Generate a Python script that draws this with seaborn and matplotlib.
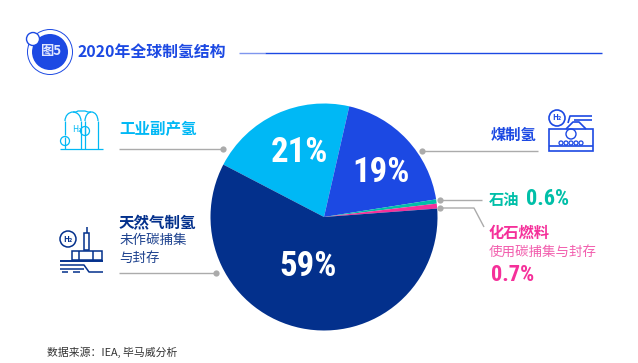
import matplotlib
matplotlib.use("Agg")
import seaborn as sns
import matplotlib.pyplot as plt
from matplotlib.patches import Circle, Arc, Rectangle

# Data (clockwise from the industrial by-product slice)
sources = ["工业副产氢", "煤制氢", "石油", "化石燃料", "天然气制氢"]
shares = [21, 19, 0.6, 0.7, 59]
share_labels = ["21%", "19%", "0.6%", "0.7%", "59%"]
colors = ["#00b8f5", "#1c49e3", "#00bfa8", "#f5309a", "#03308c"]

sns.set_theme(style="white")
cjk = ["Noto Sans CJK SC", "DejaVu Sans"]
narrow = ["Roboto Condensed", "Noto Sans CJK SC", "DejaVu Sans"]
plt.rcParams["font.family"] = cjk

W, H = 638, 363
fig = plt.figure(figsize=(W / 100, H / 100), dpi=100)

# Pie
cx, cy, r = 324, 217, 113.5
ax_pie = fig.add_axes([(cx - r) / W, 1 - (cy + r) / H, 2 * r / W, 2 * r / H])
ax_pie.pie(shares, colors=colors, startangle=152.5, counterclock=False, radius=1,
           wedgeprops={"linewidth": 0})
ax_pie.set_xlim(-1, 1)
ax_pie.set_ylim(-1, 1)

# Overlay in pixel coordinates
ax = fig.add_axes([0, 0, 1, 1])
ax.set_xlim(0, W)
ax.set_ylim(H, 0)
ax.axis("off")
ax.patch.set_alpha(0)


def label(x, y, s, color, size, weight="normal", ha="left", family=None):
    ax.text(x, y, s, color=color, fontsize=size, fontweight=weight, ha=ha, va="center",
            family=family or cjk)


def leader(xs, ys):
    ax.plot(xs, ys, color="#ababab", lw=1, solid_capstyle="butt")
    ax.plot(xs[0], ys[0], "o", color="#ababab", ms=4.5, mew=0)


def seg(color, lw, *pts):
    ax.plot([p[0] for p in pts], [p[1] for p in pts], color=color, lw=lw,
            solid_capstyle="butt")


def ring(x, y, rad, color, lw=1, fc="none"):
    ax.add_patch(Circle((x, y), rad, fc=fc, ec=color, lw=lw))


# Header
ring(50, 52, 22.5, "#1c49e3", 0.7, "white")
ring(50, 52, 18, "#1c49e3", 0, "#1c49e3")
ring(33, 39, 6.5, "#1c49e3", 1, "white")
label(51, 51, "图5", "#dfe6ff", 9.5, "bold", ha="center")
label(78, 52, "2020年全球制氢结构", "#1c49e3", 11.4, "bold")
seg("#7f96ee", 1, (239, 52.5), (265, 52.5))
seg("#1c49e3", 1, (265, 52.5), (602, 52.5))

# Percent labels on the pie
label(299, 152, share_labels[0], "white", 25, "bold", ha="center", family=narrow)
label(381, 173, share_labels[1], "white", 25, "bold", ha="center", family=narrow)
label(308, 266, share_labels[4], "white", 25, "bold", ha="center", family=narrow)

# Callouts
label(119, 129, sources[0], colors[0], 11.2, "bold")
leader([223, 119], [149, 149])

label(491, 135, sources[1], colors[1], 11, "bold")
leader([422, 538], [151, 151])

label(489, 200, sources[2], colors[2], 11, "bold")
label(526, 199, share_labels[2], colors[2], 16, "bold", family=narrow)
leader([440, 482], [200, 200])

label(489, 233, sources[3], colors[3], 11, "bold")
label(489, 252, "使用碳捕集与封存", "#f25fae", 9.7)
label(491, 275, share_labels[3], colors[3], 16, "bold", family=narrow)
leader([440, 474, 484], [208, 208, 227])

label(119, 223, sources[4], colors[4], 11.2, "bold")
label(119, 240, "未作碳捕集", "#1f438f", 9.7)
label(119, 258, "与封存", "#1f438f", 9.7)
leader([216, 119], [273, 273])

label(47, 352, "数据来源：IEA, 毕马威分析", "#333333", 7.8)

# Icon: industrial by-product
c = colors[0]
seg(c, 0.9, (60, 149), (103, 149))
seg(c, 0.9, (65, 135), (65, 121))
ax.add_patch(Arc((73, 121), 16, 18, theta1=180, theta2=360, color=c, lw=0.9))
seg(c, 0.9, (81, 149), (81, 121))
seg(c, 0.9, (85, 149), (85, 121))
seg(c, 0.9, (98, 149), (98, 121))
ax.add_patch(Arc((91.5, 121), 13, 18, theta1=180, theta2=360, color=c, lw=0.9))
seg(c, 0.9, (73, 112), (76, 112), (78, 111), (85, 111), (88, 112), (91, 112))
ring(85, 131, 4.5, c, 0.9)
ring(65, 141, 4.5, c, 0.9)
seg(c, 0.9, (65, 137), (65, 149))
seg(c, 0.9, (85, 127), (85, 135))
label(72, 129, "H₂", c, 6)

# Icon: coal
c = colors[1]
ax.add_patch(Rectangle((549, 129), 44, 22, fc="none", ec=c, lw=1.2))
seg(c, 1.2, (549, 146), (593, 146))
seg(c, 1.2, (566, 129), (573, 122), (579, 122), (586, 129))
seg(c, 1.2, (568, 123), (570, 116), (592, 116))
seg(c, 1.2, (574, 120), (592, 120))
ring(557, 118, 8, c, 1.2)
label(557, 118, "H₂", c, 5.5, "bold", ha="center")
ring(571, 134, 5, c, 1.0)
for x in [561, 566, 571, 576, 581]:
    ring(x, 143, 2, c, 0.9)

# Icon: natural gas
c = colors[4]
ring(68, 239, 8, c, 1.1)
label(68, 239, "H₂", c, 5.5, "bold", ha="center")
ax.add_patch(Rectangle((84, 233), 5, 17, fc="none", ec=c, lw=1.1))
seg(c, 1.1, (86.5, 233), (86.5, 227))
ax.add_patch(Rectangle((72, 251), 30, 9, fc="none", ec=c, lw=1.1))
seg(c, 1.1, (79, 251), (79, 260))
seg(c, 1.1, (93, 251), (93, 260))
seg(c, 1.4, (60, 261), (103, 261))
seg(c, 1.1, (60, 265), (84, 265), (89, 272), (103, 272))
seg(c, 1.1, (60, 269), (84, 269))
seg(c, 1.1, (62, 272), (68, 272))
seg(c, 1.1, (73, 272), (80, 272))

fig.savefig("out.png", dpi=100)
